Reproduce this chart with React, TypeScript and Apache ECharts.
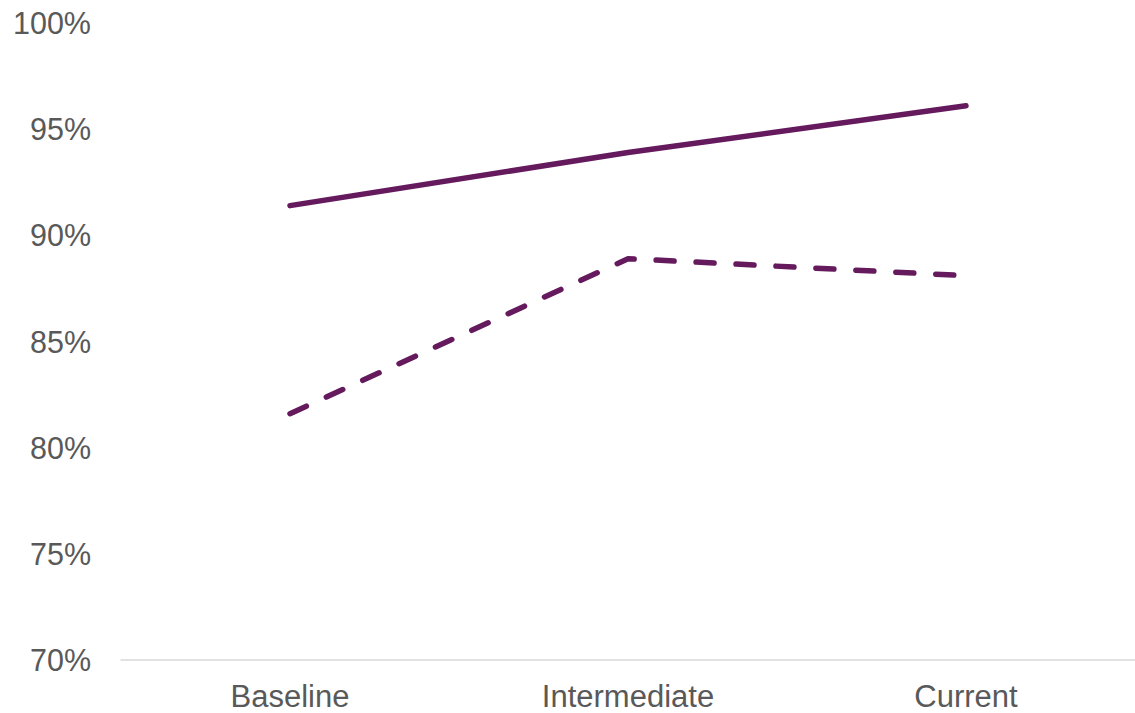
import React, { useEffect, useRef } from "react";
import * as echarts from "echarts";

const categories = ["Baseline", "Intermediate", "Current"];
const solidValues = [91.4, 93.9, 96.1];
const dashedValues = [81.6, 88.9, 88.1];
const yMin = 70;
const yMax = 100;
const yStep = 5;

export default function App() {
  const ref = useRef<HTMLDivElement>(null);
  useEffect(() => {
    document.body.style.margin = "0";
    const chart = echarts.init(ref.current!, null, { renderer: "svg" });
    const color = "#651A5E";
    chart.setOption({
      animation: false,
      backgroundColor: "#ffffff",
      grid: { left: 121, right: 0, top: 23, bottom: 53, containLabel: false },
      xAxis: {
        type: "category",
        data: categories,
        boundaryGap: true,
        axisLine: { show: true, lineStyle: { color: "#d9d9d9", width: 1.5 } },
        axisTick: { show: false },
        axisLabel: {
          color: "#595959",
          fontSize: 31,
          fontFamily: "Liberation Sans, Arial, sans-serif",
          margin: 21,
        },
      },
      yAxis: {
        type: "value",
        min: yMin,
        max: yMax,
        interval: yStep,
        splitLine: { show: false },
        axisLine: { show: false },
        axisTick: { show: false },
        axisLabel: {
          color: "#595959",
          fontSize: 30.5,
          fontFamily: "Liberation Sans, Arial, sans-serif",
          margin: 30,
          formatter: (v: number) => `${v}%`,
        },
      },
      series: [
        {
          type: "line",
          data: solidValues,
          symbol: "none",
          lineStyle: { color, width: 5.5, cap: "round" },
        },
        {
          type: "line",
          data: dashedValues,
          symbol: "none",
          lineStyle: { color, width: 5.5, type: [18, 22], cap: "round" },
        },
      ],
    });
    return () => chart.dispose();
  }, []);
  return <div ref={ref} style={{ width: 1135, height: 713 }} />;
}
